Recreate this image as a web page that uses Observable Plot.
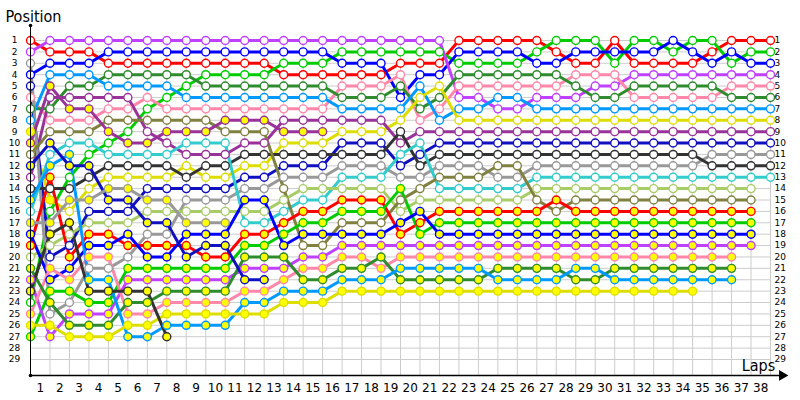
<!DOCTYPE html>
<html><head><meta charset="utf-8">
<script src="https://cdn.jsdelivr.net/npm/d3@7"></script>
<script src="https://cdn.jsdelivr.net/npm/@observablehq/plot@0.6"></script>
<style>body{margin:0;background:#fff}#chart{width:800px;height:400px}</style>
</head><body><div id="chart"></div>
<script>
const laps = [0,1,2,3,4,5,6,7,8,9,10,11,12,13,14,15,16,17,18,19,20,21,22,23,24,25,26,27,28,29,30,31,32,33,34,35,36,37,38];
const lapLabels = [1,2,3,4,5,6,7,8,9,10,11,12,13,14,15,16,17,18,19,20,21,22,23,24,25,26,27,28,29,30,31,32,33,34,35,36,37,38];
const positions = [1,2,3,4,5,6,7,8,9,10,11,12,13,14,15,16,17,18,19,20,21,22,23,24,25,26,27,28,29];

const driverColors = ["#ff0000","#00cc00","#0000ff","#c040ff","#ff88aa","#2e8b2e","#0099ff","#dddd00","#993399","#1010c0","#999999","#333333","#33cccc","#a8cc66","#808040",
  "#ff0000","#00cc00","#0000ff","#c040ff","#ff88aa","#2e8b2e","#0099ff","#dddd00","#993399","#1010c0","#999999","#333333"];
const _ = null;
const d01 = [1,2,2,2,3,3,3,3,3, 3,3,3,3, 4,4,4,4,4,4, 3,3,3, 1,1,1,1,1, 2,3,3,1,3,3,3,3,2,1,1,1];
const d02 = [24,16,13,11,10,9,7,6,5, 4,4,4,4, 3,3,3,2,2,2, 2,2,2, 3,3,3,3,2, 1,1,1,3,1,1,2,1,1,3,2,2];
const d03 = [4,3,3,3,2,2,2,2,2, 2,2,2,2, 2,2,2,3,3,3, 6,4,4, 2,2,2,2,3, 3,2,2,2,2,2,1,2,3,2,3,3];
const d04 = [2,1,1,1,1,1,1,1,1, 1,1,1,1, 1,1,1,1,1,1, 1,1,1, 6,6,7,7,6, 6,6,5,5,4,4,4,4,4,4,4,4];
const d05 = [6,8,8,8,7,7,6,7,7, 7,7,7,7, 7,7,7,5,5,5, 4,8,7, 5,5,5,5,5, 5,4,4,4,6,6,6,6,6,5,5,5];
const d06 = [7,7,5,5,4,4,4,4,4, 5,5,5,5, 5,5,5,6,6,6, 5,7,6, 4,4,4,4,4, 4,5,6,6,5,5,5,5,5,6,6,6];
const d07 = [8,4,4,4,5,5,5,5,6, 6,6,6,6, 6,6,6,7,7,7, 7,5,8, 7,7,6,6,7, 7,7,7,7,7,7,7,7,7,7,7,7];
const d08 = [9,15,16,14,13,13,13,13,12, 13,13,12,12, 10,10,10,9,9,9, 8,6,5, 8,8,8,8,8, 8,8,8,8,8,8,8,8,8,8,8,8];
const d09 = [13,6,6,6,6,6,9,10,11, 11,11,10,10, 8,8,8,8,8,8, 10,9,9, 9,9,9,9,9, 9,9,9,9,9,9,9,9,9,9,9,9];
const d10 = [5,20,19,16,16,16,14,14,14, 14,14,13,13, 12,12,12,10,10,10, 12,11,10, 10,10,10,10,10, 10,10,10,10,10,10,10,10,10,10,10,10];
const d11 = [3,25,24,21,21,20,18,18,15, 15,15,14,14, 13,13,13,12,12,12, 13,13,12, 12,12,13,13,12, 12,12,12,12,12,12,12,12,11,11,11,11];
const d12 = [14,14,14,13,12,12,12,12,13, 12,12,11,11, 11,11,11,11,11,11, 9,12,11, 11,11,11,11,11, 11,11,11,11,11,11,11,11,12,12,12,12];
const d13 = [16,11,10,10,11,11,11,11,10, 10,10,17,17, 16,15,15,13,13,13, 11,10,14, 14,14,14,14,13, 13,13,13,13,13,13,13,13,13,13,13,13];
const d14 = [20,19,18,17,17,17,16,16,16, 16,16,16,16, 15,14,14,14,14,14, 16,15,15, 15,15,15,15,14, 14,14,14,14,14,14,14,14,14,14,14,_];
const d15 = [11,9,9,9,8,8,8,8,8, 8,9,9,9, 14,19,19,17,17,17, 15,14,13, 13,13,12,12,15, 16,15,15,15,15,15,15,15,15,15,15,_];
const d16 = [19,13,20,18,18,19,19,19,19, 20,20,18,18, 17,16,16,15,15,15, 18,17,16, 16,16,16,16,16, 15,16,16,16,16,16,16,16,16,16,16,_];
const d17 = [27,23,23,24,24,21,21,21,21, 21,21,19,19, 18,17,17,16,16,16, 14,18,17, 17,17,17,17,17, 17,17,17,17,17,17,17,17,17,17,17,_];
const d18 = [18,22,21,19,19,18,20,20,18, 18,18,15,15, 19,18,18,18,18,18, 17,16,18, 18,18,18,18,18, 18,18,18,18,18,18,18,18,18,18,18,_];
const d19 = [22,27,25,25,25,22,22,22,22, 22,22,21,21, 21,20,20,19,19,19, 19,19,19, 19,19,19,19,19, 19,19,19,19,19,19,19,19,19,19,19,_];
const d20 = [25,21,22,20,20,25,25,24,24, 24,24,23,23, 22,21,21,20,20,21, 20,20,20, 20,20,20,20,20, 20,20,20,20,20,20,20,20,20,20,_,_];
const d21 = [21,24,26,26,26,24,24,23,23, 23,23,20,20, 20,22,22,21,21,20, 22,22,22, 22,22,21,21,21, 21,22,22,21,21,21,21,21,21,21,_,_];
const d22 = [15,12,11,22,22,27,27,26,26, 26,26,24,24, 23,23,23,22,22,22, 21,21,21, 21,21,22,22,22, 22,21,21,22,22,22,22,22,22,22,_,_];
const d23 = [26,26,27,27,27,26,26,25,25, 25,25,25,25, 24,24,24,23,23,23, 23,23,23, 23,23,23,23,23, 23,23,23,23,23,23,23,23,_,_,_,_];
const d24 = [10,5,7,7,9,10,10,9,9, 9,8,8,8, 9,9,9];
const d25 = [12,10,12,12,15,15,17,17,20, 19,19,22,22];
const d26 = [17,17,15,15,14,14,15,15,17, 17,17];
const d27 = [23,18,17,23,23,23,23,27];
const driverPositions = [d01,d02,d03,d04,d05,d06,d07,d08,d09,d10,d11,d12,d13,d14,d15,d16,d17,d18,d19,d20,d21,d22,d23,d24,d25,d26,d27];
// marker fill per lap: w = white, y = yellow (single letter = all laps)
const driverFills = ["w","w","w","w","w","w","w","yywwwwwwwwwwwwwwwwwwwwwwwwwwwwwwwwwwwww","w","w","w","w","w","w","w",
  "y","y","y","y","y","y","y","y","y","y","y","y"];

const rows = [];
driverPositions.forEach((arr, i) => {
  arr.forEach((p, j) => {
    if (p == null) return;
    const f = driverFills[i];
    const c = (f.length === 1 ? f : f[j]) === "y" ? "#ffff00" : "#ffffff";
    rows.push({driver: i, lap: laps[j], pos: p, color: driverColors[i], fill: c});
  });
});

const axisTop = -0.32, axisBottom = 30.4;
const chart = Plot.plot({
  width: 800, height: 400,
  marginLeft: 30, marginRight: 30, marginTop: 40, marginBottom: 41,
  x: {domain: [0, 38], axis: null},
  y: {domain: [1, 29], reverse: true, axis: null},
  color: {type: "identity"},
  style: {fontFamily: "DejaVu Sans, sans-serif", fontSize: "9px", background: "#fff"},
  marks: [
    Plot.ruleX(laps, {x: d => d, y1: 1, y2: axisBottom, stroke: "#cccccc", strokeWidth: 1}),
    Plot.ruleY(positions, {y: d => d, x1: 0, x2: 38, stroke: "#cccccc", strokeWidth: 1}),
    Plot.line(rows, {x: "lap", y: "pos", z: "driver", stroke: "color", strokeWidth: 3, strokeLinejoin: "round"}),
    Plot.dot(rows, {x: "lap", y: "pos", r: 4, stroke: "color", fill: "fill", strokeWidth: 1.4}),
    Plot.ruleX([0], {y1: axisTop, y2: axisBottom, stroke: "#000", strokeWidth: 1}),
    Plot.ruleY([axisBottom], {x1: 0, x2: 38.7, stroke: "#000", strokeWidth: 1.5}),
    Plot.dot([0, 0], {x: d => d, y: (d, i) => i === 0 ? axisTop : axisBottom, r: 1.8, fill: "#000"}),
    Plot.dot([38.6], {x: d => d, y: () => axisBottom, symbol: "triangle", r: 4, fill: "#000", rotate: 90}),
    Plot.axisY(positions, {anchor: "left", tickSize: 0, tickPadding: 16, textAnchor: "middle", label: null, fontSize: 9}),
    Plot.axisY(positions, {anchor: "right", tickSize: 0, tickPadding: 4, textAnchor: "start", label: null, fontSize: 9}),
    Plot.axisX(lapLabels.map(k => k - 0.5), {anchor: "bottom", tickSize: 0, tickPadding: 24, tickFormat: d => String(d + 0.5), label: null, fontSize: 12}),
    Plot.text(["Position"], {frameAnchor: "top-left", dx: -25, dy: -24, textAnchor: "start", lineAnchor: "middle", fontSize: 16, fontFamily: "DejaVu Sans Condensed, sans-serif"}),
    Plot.text(["Laps"], {frameAnchor: "bottom-right", dx: -12, dy: 6, textAnchor: "middle", lineAnchor: "middle", fontSize: 16, fontFamily: "DejaVu Sans Condensed, sans-serif"})
  ]
});
document.getElementById("chart").appendChild(chart);
</script>
</body></html>
